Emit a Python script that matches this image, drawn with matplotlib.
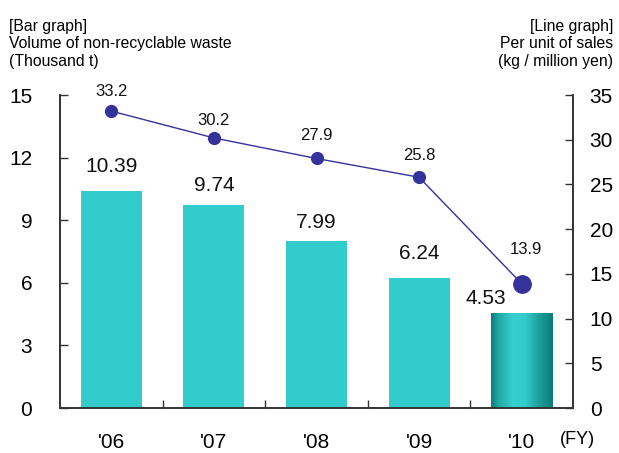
import matplotlib
matplotlib.use("Agg")
import matplotlib.pyplot as plt
import numpy as np
from matplotlib.colors import LinearSegmentedColormap

categories = ["'06", "'07", "'08", "'09", "'10"]
waste = [10.39, 9.74, 7.99, 6.24, 4.53]
per_sales = [33.2, 30.2, 27.9, 25.8, 13.9]
left_ticks = [0, 3, 6, 9, 12, 15]
right_ticks = [0, 5, 10, 15, 20, 25, 30, 35]

# label placement (styling, in points)
bar_label_offsets = [(0, 11), (0, 7), (0, 7), (0, 11), (-26, 4)]
line_label_offsets = [(0, 9), (0, 7), (0, 11), (0, 10), (3, 19)]

NUM_FONT = ['Liberation Sans Narrow', 'Liberation Sans', 'DejaVu Sans']
TXT_FONT = ['Liberation Sans', 'DejaVu Sans']

fig = plt.figure(figsize=(6.19, 4.53), dpi=100)
ax = fig.add_axes([60/619, 45/453, 513/619, 313/453])
ax2 = ax.twinx()

x = np.arange(len(categories))
bar_color = '#33CCCC'
bw = 0.595
bars = ax.bar(x, waste, width=bw, color=bar_color, zorder=2)

# gradient for last bar
last = bars[-1]
last.set_facecolor('none')
cmap = LinearSegmentedColormap.from_list(
    'g', [(0.0, '#0B7E7B'), (0.12, '#1FA8A6'), (0.35, '#36CFCF'),
          (0.55, '#33CCCC'), (0.8, '#1A9C9A'), (1.0, '#0A7A77')])
grad = np.linspace(0, 1, 256).reshape(1, -1)
im = ax.imshow(grad, cmap=cmap, aspect='auto',
               extent=(x[-1]-bw/2, x[-1]+bw/2, 0, waste[-1]), zorder=2)
im.set_clip_path(last)

ax.set_xlim(-0.5, len(categories)-0.5)
ax.set_ylim(0, 15)
ax2.set_ylim(0, 35)

ax.set_yticks(left_ticks)
ax.set_yticklabels([str(t) for t in left_ticks], family=NUM_FONT, fontsize=15)
ax2.set_yticks(right_ticks)
ax2.set_yticklabels([str(t) for t in right_ticks], family=NUM_FONT, fontsize=15)

ax.set_xticks(x)
ax.set_xticklabels(categories, family=NUM_FONT, fontsize=15)
ax.tick_params(axis='x', length=0, pad=18)
ax.set_xticks(np.arange(0.5, len(categories)-0.5, 1), minor=True)
ax.tick_params(axis='x', which='minor', direction='in', length=6, width=1, color='#333333')
ax.tick_params(axis='y', direction='in', length=6, width=1, color='#333333', pad=20)
ax2.tick_params(axis='y', direction='in', length=6, width=1, color='#333333', pad=12)

for a in (ax, ax2):
    a.spines['top'].set_visible(False)
    for s in ('left', 'right', 'bottom'):
        a.spines[s].set_color('#333333')
        a.spines[s].set_linewidth(1.2)

ax.set_zorder(1)
ax2.set_zorder(2)
ax.patch.set_visible(False)

ax2.plot(x, per_sales, color='#333399', linewidth=1, zorder=3)
ax2.plot(x[:-1], per_sales[:-1], 'o', color='#333399', markersize=8.5, zorder=4)
ax2.plot(x[-1:], per_sales[-1:], 'o', color='#333399', markersize=12.5, zorder=4)

for i, v in enumerate(waste):
    ax.annotate(f"{v:.2f}", (x[i], v), xytext=bar_label_offsets[i], textcoords='offset points',
                ha='center', va='bottom', family=NUM_FONT, fontsize=15, color='#111111')
for i, v in enumerate(per_sales):
    ax2.annotate(f"{v:.1f}", (x[i], v), xytext=line_label_offsets[i], textcoords='offset points',
                 ha='center', va='bottom', family=NUM_FONT, fontsize=12, color='#111111')

fig.text(9/619, 1-19/453, "[Bar graph]\nVolume of non-recyclable waste\n(Thousand t)",
         ha='left', va='top', family=TXT_FONT, fontsize=11.3, linespacing=1.2)
fig.text(613/619, 1-19/453, "[Line graph]\nPer unit of sales\n(kg / million yen)",
         ha='right', va='top', family=TXT_FONT, fontsize=11.3, linespacing=1.2, multialignment='right')
fig.text(577/619, 1-440/453, "(FY)", ha='center', va='center', family=TXT_FONT, fontsize=13)

fig.savefig("out.png", dpi=100)
